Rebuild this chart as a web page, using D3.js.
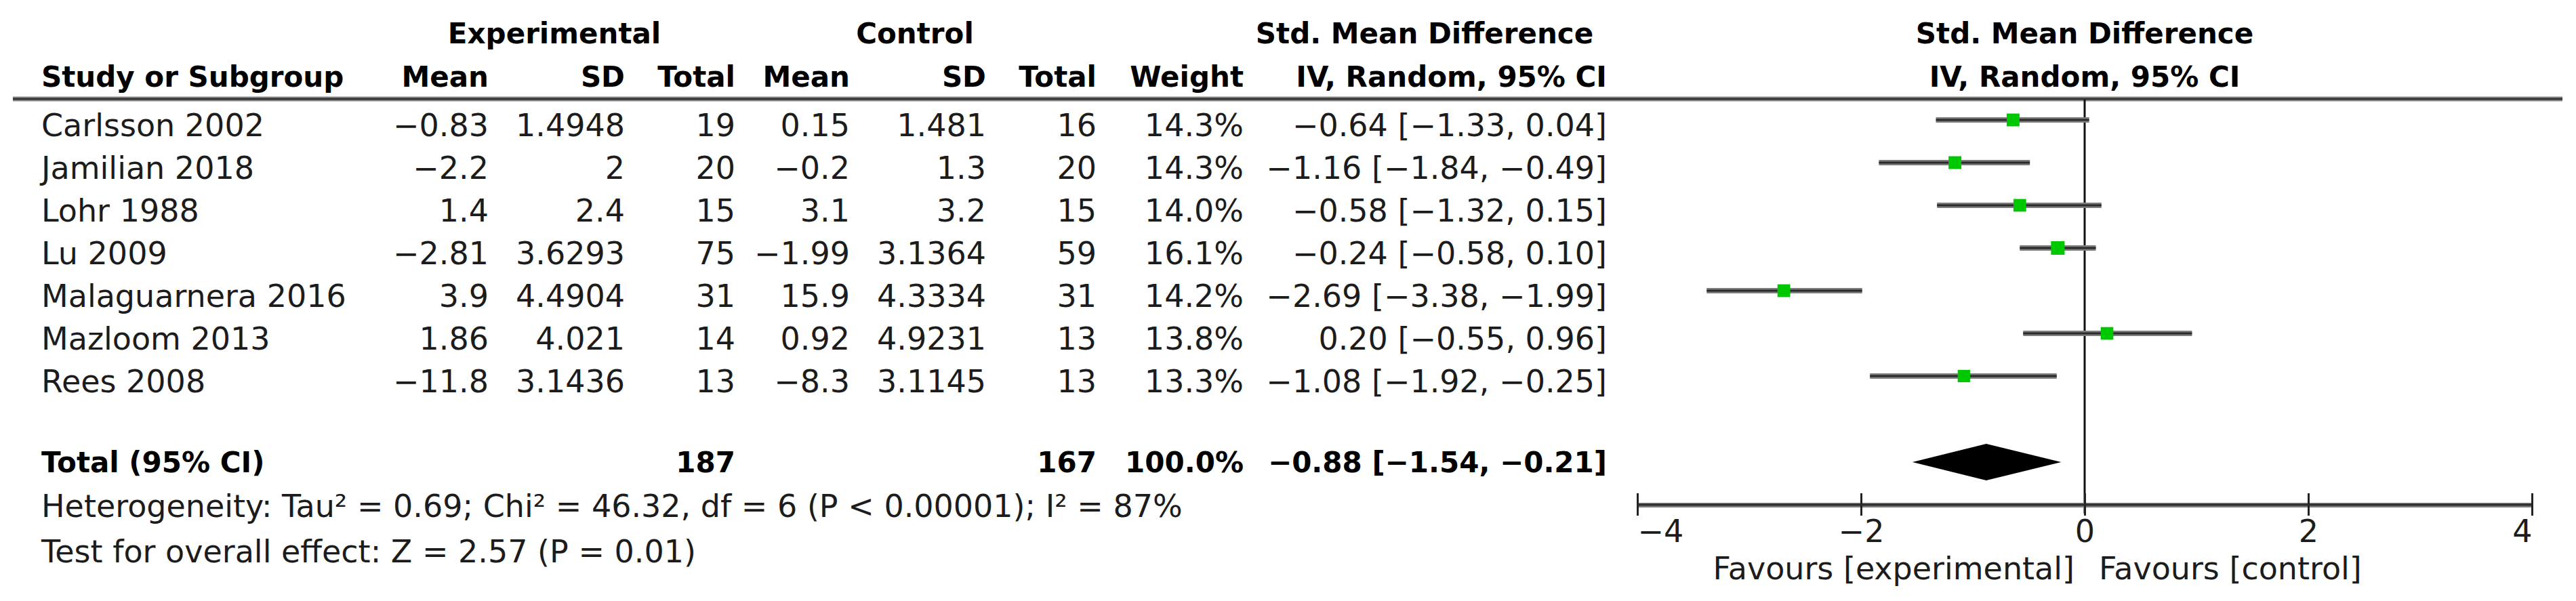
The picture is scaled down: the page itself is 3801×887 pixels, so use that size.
<!DOCTYPE html>
<html>
<head>
<meta charset="utf-8">
<script src="https://cdn.jsdelivr.net/npm/d3@7"></script>
<style>
  html, body { margin: 0; padding: 0; background: #ffffff; }
  svg { display: block; }
  text { font-family: "DejaVu Sans", "Noto Sans", sans-serif; fill: #1c1c1c; }
  .b { font-weight: bold; fill: #000; }
</style>
</head>
<body>
<svg id="chart" width="3801" height="887"></svg>
<script>
// ---------- data ----------
const studies   = ["Carlsson 2002", "Jamilian 2018", "Lohr 1988", "Lu 2009", "Malaguarnera 2016", "Mazloom 2013", "Rees 2008"];
const expMean   = [-0.83, -2.2, 1.4, -2.81, 3.9, 1.86, -11.8];
const expSD     = [1.4948, 2, 2.4, 3.6293, 4.4904, 4.021, 3.1436];
const expTotal  = [19, 20, 15, 75, 31, 14, 13];
const ctrlMean  = [0.15, -0.2, 3.1, -1.99, 15.9, 0.92, -8.3];
const ctrlSD    = [1.481, 1.3, 3.2, 3.1364, 4.3334, 4.9231, 3.1145];
const ctrlTotal = [16, 20, 15, 59, 31, 13, 13];
const weights   = [14.3, 14.3, 14.0, 16.1, 14.2, 13.8, 13.3];
const smd       = [-0.64, -1.16, -0.58, -0.24, -2.69, 0.20, -1.08];
const ciLow     = [-1.33, -1.84, -1.32, -0.58, -3.38, -0.55, -1.92];
const ciHigh    = [0.04, -0.49, 0.15, 0.10, -1.99, 0.96, -0.25];

const totalLabel = "Total (95% CI)";
const totalExpN  = 187;
const totalCtrlN = 167;
const totalWeight = 100.0;
const pooled = { est: -0.88, low: -1.54, high: -0.21 };

const heterogeneityText = "Heterogeneity: Tau² = 0.69; Chi² = 46.32, df = 6 (P < 0.00001); I² = 87%";
const overallText = "Test for overall effect: Z = 2.57 (P = 0.01)";

const axisTicks = [-4, -2, 0, 2, 4];
const favoursLeft = "Favours [experimental]";
const favoursRight = "Favours [control]";

// ---------- layout ----------
const svg = d3.select("#chart");
const fmtNum = v => String(v).replace("-", "\u2212");
const fmt2 = v => v.toFixed(2).replace("-", "\u2212");
const fmtCI = (e, l, h) => `${fmt2(e)} [${fmt2(l)}, ${fmt2(h)}]`;

const FS = 46, FSB = 42;
const y = d3.scaleLinear().domain([0, studies.length - 1]).range([177, 555]); // row centre
const baseOff = 24;
const totalY = 673, diamondY = 682;
const x = d3.scaleLinear().domain([-4, 4]).range([2416, 3736]);

// column right edges
const col = { study: 61, eMean: 721, eSD: 922, eTot: 1085, cMean: 1254, cSD: 1455, cTot: 1618, wt: 1835, ci: 2371 };

function txt(xp, yp, s, anchor, bold, size) {
  return svg.append("text").attr("x", xp).attr("y", yp).attr("text-anchor", anchor || "start")
    .attr("class", bold ? "b" : null).style("font-size", (size || (bold ? FSB : FS)) + "px").text(s);
}

// header row 1
txt(818, 64, "Experimental", "middle", true);
txt(1350, 64, "Control", "middle", true);
txt(2102, 64, "Std. Mean Difference", "middle", true);
txt(x(0), 64, "Std. Mean Difference", "middle", true);
// header row 2
txt(col.study, 128, "Study or Subgroup", "start", true);
txt(col.eMean, 128, "Mean", "end", true);
txt(col.eSD, 128, "SD", "end", true);
txt(col.eTot, 128, "Total", "end", true);
txt(col.cMean, 128, "Mean", "end", true);
txt(col.cSD, 128, "SD", "end", true);
txt(col.cTot, 128, "Total", "end", true);
txt(col.wt, 128, "Weight", "end", true);
txt(col.ci, 128, "IV, Random, 95% CI", "end", true);
txt(x(0), 128, "IV, Random, 95% CI", "middle", true);

// header rule
svg.append("line").attr("x1", 19).attr("x2", 3781).attr("y1", 146).attr("y2", 146)
  .attr("stroke", "#8a8a8a").attr("stroke-width", 7);
svg.append("line").attr("x1", 19).attr("x2", 3781).attr("y1", 146).attr("y2", 146)
  .attr("stroke", "#333").attr("stroke-width", 3);

// study rows
studies.forEach((s, i) => {
  const by = y(i) + baseOff;
  txt(col.study, by, s, "start");
  txt(col.eMean, by, fmtNum(expMean[i]), "end");
  txt(col.eSD, by, fmtNum(expSD[i]), "end");
  txt(col.eTot, by, String(expTotal[i]), "end");
  txt(col.cMean, by, fmtNum(ctrlMean[i]), "end");
  txt(col.cSD, by, fmtNum(ctrlSD[i]), "end");
  txt(col.cTot, by, String(ctrlTotal[i]), "end");
  txt(col.wt, by, weights[i].toFixed(1) + "%", "end");
  txt(col.ci, by, fmtCI(smd[i], ciLow[i], ciHigh[i]), "end");
});

// total row
const tb = totalY + baseOff;
txt(col.study, tb, totalLabel, "start", true);
txt(col.eTot, tb, String(totalExpN), "end", true);
txt(col.cTot, tb, String(totalCtrlN), "end", true);
txt(col.wt, tb, totalWeight.toFixed(1) + "%", "end", true);
txt(col.ci, tb, fmtCI(pooled.est, pooled.low, pooled.high), "end", true);

txt(col.study, 763, heterogeneityText, "start");
txt(col.study, 830, overallText, "start");

// ---------- forest plot ----------
const g = svg.append("g");
const axisY = 745;

// zero line
g.append("line").attr("x1", x(0)).attr("x2", x(0)).attr("y1", 147).attr("y2", 758)
  .attr("stroke", "#111").attr("stroke-width", 3);

// CI lines
g.selectAll("line.ci").data(studies).join("line").attr("class", "ci")
  .attr("x1", (d, i) => x(ciLow[i])).attr("x2", (d, i) => x(ciHigh[i]))
  .attr("y1", (d, i) => y(i)).attr("y2", (d, i) => y(i))
  .attr("stroke", "#7d7d7d").attr("stroke-width", 8);
g.selectAll("line.cic").data(studies).join("line").attr("class", "cic")
  .attr("x1", (d, i) => x(ciLow[i])).attr("x2", (d, i) => x(ciHigh[i]))
  .attr("y1", (d, i) => y(i)).attr("y2", (d, i) => y(i))
  .attr("stroke", "#2a2a2a").attr("stroke-width", 3);

// squares
const side = w => 5 * Math.sqrt(w);
g.selectAll("rect.sq").data(studies).join("rect").attr("class", "sq")
  .attr("x", (d, i) => x(smd[i]) - side(weights[i]) / 2)
  .attr("y", (d, i) => y(i) - side(weights[i]) / 2)
  .attr("width", (d, i) => side(weights[i])).attr("height", (d, i) => side(weights[i]))
  .attr("fill", "#00c800");

// diamond
const dh = 27;
g.append("path")
  .attr("d", `M${x(pooled.low)},${diamondY} L${x(pooled.est)},${diamondY - dh} L${x(pooled.high)},${diamondY} L${x(pooled.est)},${diamondY + dh} Z`)
  .attr("fill", "#000");

// axis
const axis = d3.axisBottom(x).tickValues(axisTicks).tickSize(0).tickFormat(d => fmtNum(d));
const ag = g.append("g").attr("transform", `translate(0,${axisY})`).call(axis);
ag.select(".domain").attr("stroke", "#7d7d7d").attr("stroke-width", 7);
ag.append("line").attr("x1", x(-4)).attr("x2", x(4)).attr("y1", 0).attr("y2", 0)
  .attr("stroke", "#2a2a2a").attr("stroke-width", 3);
ag.selectAll(".tick").append("line").attr("y1", -17).attr("y2", 16).attr("stroke", "#222").attr("stroke-width", 3);
ag.selectAll(".tick text")
  .attr("y", 55).attr("dy", 0)
  .style("font-size", FS + "px").style("font-family", '"DejaVu Sans", sans-serif').attr("fill", "#1c1c1c")
  .attr("text-anchor", (d, i) => i === 0 ? "start" : (i === axisTicks.length - 1 ? "end" : "middle"));

txt(x(0) - 15, 855, favoursLeft, "end");
txt(x(0) + 21, 855, favoursRight, "start");
</script>
</body>
</html>
